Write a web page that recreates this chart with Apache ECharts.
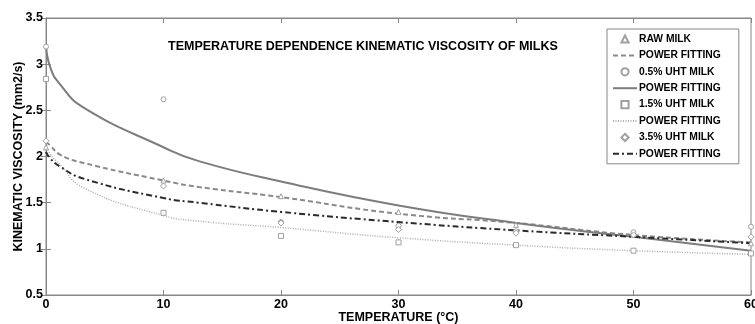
<!DOCTYPE html>
<html>
<head>
<meta charset="utf-8">
<script src="https://cdn.jsdelivr.net/npm/echarts@6/dist/echarts.min.js"></script>
<style>
  html, body { margin: 0; padding: 0; background: #fff; }
  #main { width: 755px; height: 324px; }
</style>
</head>
<body>
<div id="main"></div>
<script>
// measured points
var temps = [0, 10, 20, 30, 40, 50, 60];
var rawMilk = [2.10, 1.74, 1.57, 1.40, 1.26, 1.16, 1.06];
var uht05 = [3.19, 2.62, 1.29, 1.25, 1.19, 1.18, 1.24];
var uht15 = [2.84, 1.39, 1.14, 1.07, 1.04, 0.98, 0.95];
var uht35 = [2.17, 1.68, 1.28, 1.21, 1.17, 1.15, 1.13];

// power fitting curves
var fitT = [0, 0.35, 1.2, 3.2, 10, 13, 20, 30, 40, 50, 60];
var rawFit = [2.16, 2.12, 2.02, 1.93, 1.74, 1.67, 1.56, 1.38, 1.28, 1.15, 1.07];
var uht05Fit = [3.22, 2.97, 2.78, 2.53, 2.10, 1.95, 1.73, 1.47, 1.28, 1.13, 0.98];
var uht15Fit = [2.15, 2.03, 1.91, 1.66, 1.36, 1.30, 1.23, 1.12, 1.04, 0.98, 0.94];
var uht35Fit = [2.05, 1.98, 1.89, 1.76, 1.55, 1.50, 1.40, 1.29, 1.20, 1.13, 1.06];

var yTicks = [0.5, 3.5, 0.5]; // min, max, step
var xTicks = [0, 60, 10];

function pairs(xs, ys) {
  return xs.map(function (x, i) { return [x, ys[i]]; });
}

var font = 'Arial, "Liberation Sans", sans-serif';

// markers drawn as a line series with a hidden line, so the legend icon stays small
function marks(name, symbol, vals) {
  return {
    name: name,
    type: 'line',
    symbol: symbol,
    symbolSize: symbol === 'diamond' ? 6 : 5,
    showSymbol: true,
    showAllSymbol: true,
    clip: false,
    z: 5,
    itemStyle: { color: '#fff', borderColor: '#a0a0a0', borderWidth: 1 },
    lineStyle: { width: 0, opacity: 0 },
    data: pairs(temps, vals)
  };
}

function fit(name, vals, color, width, dash) {
  return {
    name: name,
    type: 'line',
    smooth: 0.5,
    showSymbol: false,
    symbol: 'none',
    z: 3,
    itemStyle: { color: color },
    lineStyle: { color: color, width: width, type: dash },
    data: pairs(fitT, vals)
  };
}

var hideDot = { color: 'transparent', borderWidth: 0, opacity: 0 };

var myChart = echarts.init(document.getElementById('main'));
myChart.setOption({
  backgroundColor: '#fff',
  animation: false,
  textStyle: { fontFamily: font },
  title: {
    text: 'TEMPERATURE DEPENDENCE KINEMATIC VISCOSITY OF MILKS',
    left: 168,
    top: 40,
    padding: 0,
    textStyle: { fontSize: 12.5, fontWeight: 'bold', color: '#000', fontFamily: font }
  },
  legend: {
    orient: 'vertical',
    left: 607,
    top: 29,
    padding: [4, 18, 4, 5],
    itemWidth: 24,
    itemHeight: 9,
    itemGap: 4.4,
    borderColor: '#888',
    borderWidth: 1,
    borderRadius: 0,
    backgroundColor: '#fff',
    textStyle: { fontSize: 10.3, lineHeight: 12, fontWeight: 'bold', color: '#000', fontFamily: font, padding: [0, 0, 0, -3] },
    formatter: function (name) { return name.indexOf('POWER FITTING') === 0 ? 'POWER FITTING' : name; },
    data: [
      'RAW MILK',
      { name: 'POWER FITTING a', itemStyle: hideDot },
      '0.5% UHT MILK',
      { name: 'POWER FITTING b', itemStyle: hideDot },
      '1.5% UHT MILK',
      { name: 'POWER FITTING c', itemStyle: hideDot },
      '3.5% UHT MILK',
      { name: 'POWER FITTING d', itemStyle: hideDot }
    ]
  },
  grid: {
    left: 46, right: 4, top: 18, bottom: 29,
    containLabel: false,
    outerBoundsMode: 'none',
    show: true, borderColor: '#888', borderWidth: 1
  },
  xAxis: [{
    type: 'value',
    min: xTicks[0], max: xTicks[1], interval: xTicks[2],
    name: 'TEMPERATURE (°C)',
    nameLocation: 'middle',
    nameGap: 16,
    nameMoveOverlap: false,
    nameTextStyle: { fontSize: 12.5, fontWeight: 'bold', color: '#000' },
    axisLine: { lineStyle: { color: '#888' } },
    axisTick: { inside: true, length: 5, lineStyle: { color: '#888' } },
    axisLabel: { fontSize: 12.5, fontWeight: 'bold', color: '#000', margin: 3 },
    splitLine: { show: false }
  }, {
    type: 'value', position: 'top',
    min: xTicks[0], max: xTicks[1], interval: xTicks[2],
    axisLine: { lineStyle: { color: '#888' } },
    axisTick: { inside: true, length: 5, lineStyle: { color: '#888' } },
    axisLabel: { show: false },
    splitLine: { show: false }
  }],
  yAxis: [{
    type: 'value',
    min: yTicks[0], max: yTicks[1], interval: yTicks[2],
    name: 'KINEMATIC VISCOSITY (mm2/s)',
    nameLocation: 'middle',
    nameGap: 21,
    nameMoveOverlap: false,
    nameTextStyle: { fontSize: 12.5, fontWeight: 'bold', color: '#000' },
    axisLine: { show: true, lineStyle: { color: '#888' } },
    axisTick: { show: true, inside: true, length: 5, lineStyle: { color: '#888' } },
    axisLabel: { fontSize: 12.5, fontWeight: 'bold', color: '#000', margin: 3 },
    splitLine: { show: false }
  }, {
    type: 'value', position: 'right',
    min: yTicks[0], max: yTicks[1], interval: yTicks[2],
    axisLine: { show: true, lineStyle: { color: '#888' } },
    axisTick: { show: true, inside: true, length: 5, lineStyle: { color: '#888' } },
    axisLabel: { show: false },
    splitLine: { show: false }
  }],
  series: [
    marks('RAW MILK', 'triangle', rawMilk),
    fit('POWER FITTING a', rawFit, '#8a8a8a', 2, [5, 3]),
    marks('0.5% UHT MILK', 'circle', uht05),
    fit('POWER FITTING b', uht05Fit, '#7d7d7d', 2, 'solid'),
    marks('1.5% UHT MILK', 'rect', uht15),
    fit('POWER FITTING c', uht15Fit, '#adadad', 1.5, [1, 1.5]),
    marks('3.5% UHT MILK', 'diamond', uht35),
    fit('POWER FITTING d', uht35Fit, '#2b2b2b', 2, [6, 3, 2, 3])
  ]
});
</script>
</body>
</html>
